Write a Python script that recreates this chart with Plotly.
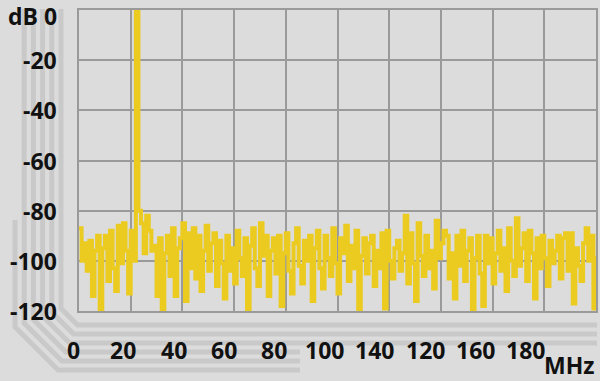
import plotly.graph_objects as go

# ---------------- data ----------------
freq_mhz = list(range(0, 201))
level_db = [
    -87, -100, -93, -104, -92, -114, -96, -90, -120, -95,
    -90, -108, -88, -103, -112, -86, -101, -85, -96, -113,
    -88, -100, 0, -80, -85, -97, -82, -88, -96, -94,
    -114, -91, -120, -97, -90, -106, -87, -114, -95, -91,
    -85, -116, -89, -103, -87, -107, -90, -112, -96, -86,
    -104, -93, -89, -110, -92, -101, -115, -90, -104, -95,
    -109, -88, -99, -106, -91, -120, -94, -87, -103, -110,
    -85, -98, -90, -114, -96, -91, -105, -90, -118, -97,
    -89, -104, -113, -93, -87, -102, -109, -92, -100, -90,
    -116, -95, -88, -103, -111, -90, -99, -106, -87, -101,
    -113, -91, -97, -86, -108, -94, -103, -88, -120, -98,
    -91, -105, -93, -90, -110, -96, -103, -89, -119, -88,
    -100, -107, -95, -92, -104, -97, -82, -109, -89, -101,
    -116, -85, -98, -106, -90, -103, -96, -111, -84, -99,
    -93, -88, -90, -107, -97, -115, -90, -102, -88, -108,
    -96, -91, -120, -99, -90, -105, -118, -90, -101, -91,
    -109, -97, -88, -104, -95, -112, -87, -100, -106, -83,
    -102, -95, -89, -108, -88, -97, -115, -91, -103, -90,
    -99, -110, -92, -101, -96, -90, -107, -91, -89, -104,
    -89, -117, -95, -102, -108, -93, -87, -100, -90, -119,
    -98,
]
x_tick_vals = [0, 20, 40, 60, 80, 100, 120, 140, 160, 180]
x_tick_labels = ["0", "20", "40", "60", "80", "100", "140", "120", "160", "180"]
y_tick_vals = [0, -20, -40, -60, -80, -100, -120]
y_tick_labels = ["dB 0", "-20", "-40", "-60", "-80", "-100", "-120"]
x_unit = "MHz"

# ---------------- style / layout constants ----------------
W, H = 600, 381
ML, MR, MT, MB = 60, 4, 10, 70
PX_LEFT = 79          # left edge of plot frame (pixels)
PX_RIGHT = W - MR
PX_TOP = MT
PX_BOTTOM = H - MB
paper_w = W - ML - MR
paper_h = H - MT - MB

def px_to_paper_x(px):
    return (px - ML) / paper_w

def px_to_paper_y(py):
    return (PX_BOTTOM - py) / paper_h

BG = "#dcdcdc"
GRID = "#9a9a9a"
YELLOW = "#ebcb1f"
DECOR = "#c9c9c9"
FONT = dict(family="Open Sans", size=23, color="#111111", weight="bold")

X_MIN, X_MAX = 0, 200
Y_MIN, Y_MAX = -120, 0
px_per_mhz = (PX_RIGHT - PX_LEFT) / (X_MAX - X_MIN)
px_per_db = (PX_BOTTOM - PX_TOP) / (Y_MAX - Y_MIN)

fig = go.Figure()

fig.add_trace(go.Scatter(
    x=freq_mhz, y=level_db, mode="lines",
    line=dict(color=YELLOW, width=4, shape="hv"),
    hoverinfo="skip", showlegend=False,
))

# small square tick marks, detached from the frame
ytick_x = X_MIN - (PX_LEFT - 68) / px_per_mhz
fig.add_trace(go.Scatter(
    x=[ytick_x] * len(y_tick_vals), y=y_tick_vals, mode="markers",
    marker=dict(symbol="square", size=4, color="#111111"),
    cliponaxis=False, hoverinfo="skip", showlegend=False,
))
xtick_y = Y_MIN - (327 - PX_BOTTOM) / px_per_db
fig.add_trace(go.Scatter(
    x=x_tick_vals, y=[xtick_y] * len(x_tick_vals), mode="markers",
    marker=dict(symbol="square", size=4, color="#111111"),
    cliponaxis=False, hoverinfo="skip", showlegend=False,
))

annotations = []
# y tick labels, right-aligned left of the tick squares
for val, lab in zip(y_tick_vals, y_tick_labels):
    annotations.append(dict(
        x=px_to_paper_x(59), y=val, xref="paper", yref="y",
        text=lab, showarrow=False, xanchor="right", yanchor="middle", font=FONT,
        yshift=-6 if val == Y_MAX else 0,
    ))
# x tick labels (drawn slightly compressed relative to the grid, as in the original)
label_step_px = 50.3
label_first_px = 73
for i, lab in enumerate(x_tick_labels):
    px = label_first_px + i * label_step_px
    annotations.append(dict(
        x=px_to_paper_x(px), y=px_to_paper_y(349.5), xref="paper", yref="paper",
        text=lab, showarrow=False, xanchor="center", yanchor="middle", font=FONT,
    ))
annotations.append(dict(
    x=px_to_paper_x(597), y=px_to_paper_y(365), xref="paper", yref="paper",
    text=x_unit, showarrow=False, xanchor="right", yanchor="middle", font=FONT,
))

# decorative stepped lines at the lower left
shapes = []
for i in range(6):
    xv = 61 - 9.2 * i
    yh = 325 + 9 * i
    d = 16.5 + 5.3 * i
    ytop = 9 if i < 5 else 220
    xend = 597 if i < 3 else 300
    pts = [(xv, ytop), (xv, yh - d), (xv + d, yh), (xend, yh)]
    path = "M " + " L ".join(f"{px_to_paper_x(a):.5f},{px_to_paper_y(b):.5f}" for a, b in pts)
    shapes.append(dict(type="path", path=path, xref="paper", yref="paper",
                       line=dict(color=DECOR, width=5), layer="below"))

fig.update_layout(
    width=W, height=H,
    margin=dict(l=ML, r=MR, t=MT, b=MB, autoexpand=False),
    paper_bgcolor=BG, plot_bgcolor=BG,
    showlegend=False,
    annotations=annotations,
    shapes=shapes,
    xaxis=dict(
        domain=[px_to_paper_x(PX_LEFT), 1],
        range=[X_MIN, X_MAX], tickvals=list(range(0, 201, 20)),
        showticklabels=False, ticks="", automargin=False,
        showgrid=True, gridcolor=GRID, gridwidth=2,
        showline=True, mirror=True, linecolor=GRID, linewidth=2,
        zeroline=False, fixedrange=True,
    ),
    yaxis=dict(
        range=[Y_MIN, Y_MAX], tickvals=y_tick_vals,
        showticklabels=False, ticks="", automargin=False,
        showgrid=True, gridcolor=GRID, gridwidth=2,
        showline=True, mirror=True, linecolor=GRID, linewidth=2,
        zeroline=False, fixedrange=True,
    ),
)

fig.write_html("out.html")
